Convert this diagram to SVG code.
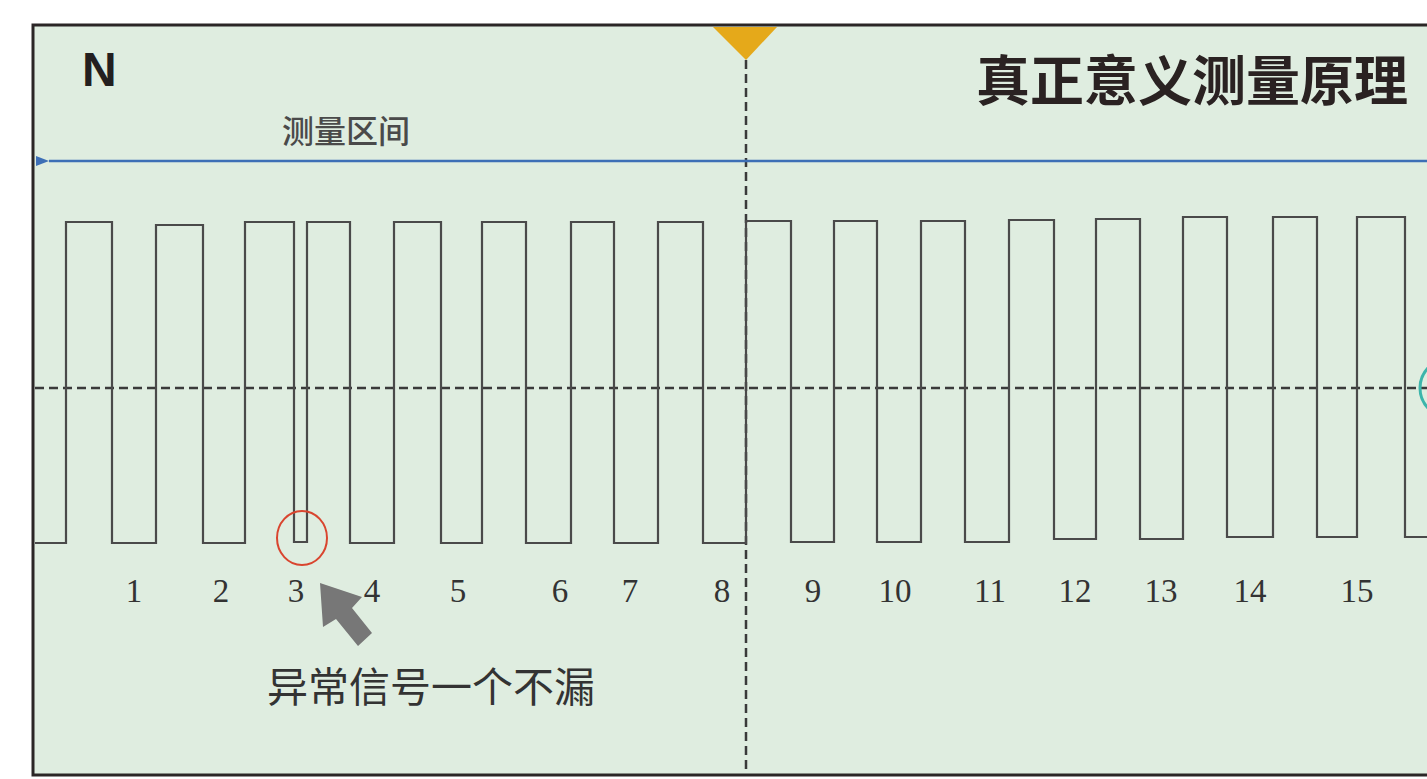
<svg xmlns="http://www.w3.org/2000/svg" width="1427" height="779" viewBox="0 0 1427 779">
<style>
.num{font-family:"Liberation Serif","DejaVu Serif",serif;font-size:33px;fill:#333;text-anchor:middle}
.cjk{font-family:"Noto Sans CJK SC","Noto Sans",sans-serif}
.dash{stroke:#3a3a3a;stroke-width:2.5;stroke-dasharray:9 5;fill:none}
</style>
<defs>
<marker id="blueHead" markerWidth="13" markerHeight="10" refX="0" refY="5" orient="auto-start-reverse" markerUnits="userSpaceOnUse">
<path d="M0,5 L13,0 L13,10 Z" fill="#3d6fb6"/>
</marker>
</defs>
<rect x="0" y="0" width="1427" height="779" fill="#ffffff"/>
<g id="frame">
<rect x="33" y="25" width="1420" height="750" fill="#dfede0" stroke="#2b2626" stroke-width="3"/>
</g>
<g id="trigger">
<polygon points="713,27 777,27 746,60" fill="#e5a91a"/>
<line x1="746" y1="60" x2="746" y2="774" class="dash"/>
</g>
<g id="threshold">
<line x1="35" y1="388" x2="1427" y2="388" class="dash"/>
</g>
<g id="waveform">
<path d="M35,543 H66 V222 H112 V543 H156 V225 H203 V543 H245 V222 H294 V542 H307 V222 H350 V543 H394 V222 H441 V543 H482 V222 H526 V543 H571 V222 H614 V543 H658 V222 H703 V543 H746 V221 H791 V542 H834 V221 H877 V542 H921 V221 H965 V542 H1009 V220 H1054 V539 H1096 V219 H1140 V539 H1183 V217 H1227 V537 H1273 V217 H1317 V537 H1357 V217 H1405 V537 H1430" fill="none" stroke="#4a4a4a" stroke-width="2.2"/>
</g>
<g id="glitch-mark">
<ellipse cx="302" cy="538" rx="25" ry="27" fill="none" stroke="#d9452f" stroke-width="2"/>
</g>
<g id="teal-mark">
<circle cx="1449" cy="388" r="29" fill="none" stroke="#3cb5ab" stroke-width="3"/>
</g>
<g id="connectors">
<line x1="1430" y1="161" x2="49" y2="161" stroke="#3d6fb6" stroke-width="2.5" marker-end="url(#blueHead)"/>
<polygon points="320,583 362,597 352,608 372,633 358,646 336,619 323,627" fill="#777777"/>
</g>
<g id="labels">
<text x="82" y="86" font-family="Liberation Sans, Arial, sans-serif" font-weight="bold" font-size="48" fill="#231f20">N</text>
<text x="346" y="143" class="cjk" font-size="32" font-weight="500" fill="#4a4a4a" text-anchor="middle">测量区间</text>
<text x="1192" y="101" class="cjk" font-size="54" font-weight="bold" fill="#2a2222" text-anchor="middle">真正意义测量原理</text>
<text x="431" y="702" class="cjk" font-size="41" fill="#333" text-anchor="middle">异常信号一个不漏</text>
</g>
<g id="numbers">
<text class="num" x="134" y="602">1</text>
<text class="num" x="221" y="602">2</text>
<text class="num" x="296" y="602">3</text>
<text class="num" x="372" y="602">4</text>
<text class="num" x="458" y="602">5</text>
<text class="num" x="560" y="602">6</text>
<text class="num" x="630" y="602">7</text>
<text class="num" x="722" y="602">8</text>
<text class="num" x="813" y="602">9</text>
<text class="num" x="895" y="602">10</text>
<text class="num" x="990" y="602">11</text>
<text class="num" x="1075" y="602">12</text>
<text class="num" x="1161" y="602">13</text>
<text class="num" x="1250" y="602">14</text>
<text class="num" x="1357" y="602">15</text>
</g>
</svg>
